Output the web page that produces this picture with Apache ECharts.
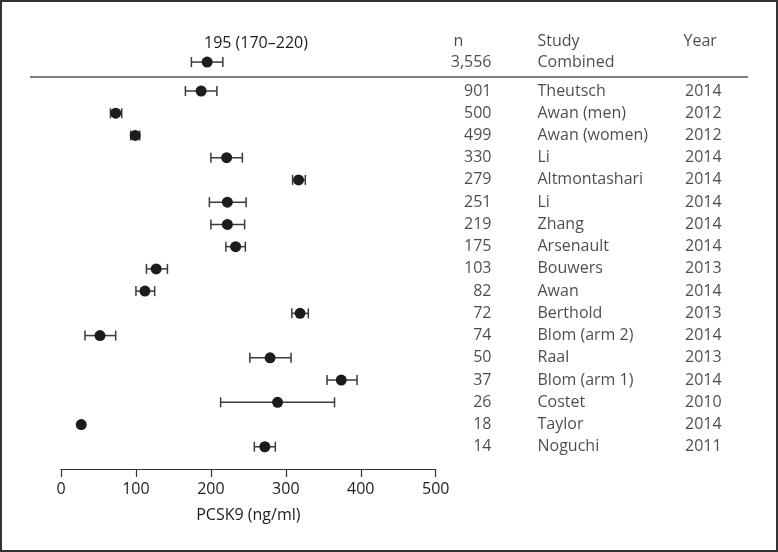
<!DOCTYPE html>
<html>
<head>
<meta charset="utf-8">
<script src="https://cdn.jsdelivr.net/npm/echarts@6/dist/echarts.min.js"></script>
<style>
html,body{margin:0;padding:0;background:#fff;}
#c{width:778px;height:552px;}
</style>
</head>
<body>
<div id="c"></div>
<script>
// ---- data ----
const studies = ['Theutsch','Awan (men)','Awan (women)','Li','Altmontashari','Li','Zhang','Arsenault','Bouwers','Awan','Berthold','Blom (arm 2)','Raal','Blom (arm 1)','Costet','Taylor','Noguchi'];
const nValues = [901,500,499,330,279,251,219,175,103,82,72,74,50,37,26,18,14];
const years = [2014,2012,2012,2014,2014,2014,2014,2014,2013,2014,2013,2014,2013,2014,2010,2014,2011];
const means = [187,73,99,221,317,222,222,233,127,112,319,52,279,374,289,27,272];
const lows  = [166,66,93,200,309,198,200,220,114,100,308,32,252,355,213,null,258];
const highs = [208,81,105,242,326,247,245,246,142,125,330,73,307,395,365,null,286];
const combined = {name:'Combined', n:3556, mean:195, low:174, high:216, label:'195 (170–220)'};
const xTicks = [0,100,200,300,400,500];
const headers = {n:'n', study:'Study', year:'Year'};

// ---- layout helpers ----
const FONT = '"Open Sans", "Noto Sans", sans-serif';
const FS = 16;
const TXT = '#1e1e1e';
const rowY = studies.map((_, i) => i);
const combinedY = -1.3;
const headerY = -2.25;
const colN = 52, colNHead = 13, colStudy = 97, colYear = 243;

const barData = [];
studies.forEach((s, i) => { if (lows[i] != null) barData.push([lows[i], highs[i], rowY[i]]); });
barData.push([combined.low, combined.high, combinedY]);
const pointData = studies.map((s, i) => [means[i], rowY[i]]);
pointData.push([combined.mean, combinedY]);

function textSeries(items, align) {
  return {
    type: 'scatter', xAxisIndex: 1, yAxisIndex: 1, symbolSize: 1, silent: true,
    itemStyle: {color: 'rgba(0,0,0,0)'},
    data: items.map(it => ({value: [it.x, it.y], label: {formatter: String(it.t)}})),
    label: {show: true, position: align === 'right' ? 'left' : 'right', distance: 0,
      fontSize: FS, fontFamily: FONT, color: TXT}
  };
}
const fmt = v => v.toLocaleString('en-US');
const nItems = studies.map((s, i) => ({x: colN, y: rowY[i], t: fmt(nValues[i])}));
nItems.push({x: colN, y: combinedY, t: fmt(combined.n)});
const nHead = [{x: colNHead, y: headerY, t: headers.n}];
const studyItems = studies.map((s, i) => ({x: colStudy, y: rowY[i], t: s}));
studyItems.push({x: colStudy, y: combinedY, t: combined.name});
studyItems.push({x: colStudy, y: headerY, t: headers.study});
const yearItems = years.map((y, i) => ({x: colYear + 1.5, y: rowY[i], t: y}));
const yearHead = [{x: colYear, y: headerY, t: headers.year}];

const chart = echarts.init(document.getElementById('c'), null, {renderer: 'canvas'});
const gridTop = 35.4, gridH = 433.6;
const option = {
  animation: false,
  backgroundColor: '#fff',
  title: {text: combined.label, left: 199, top: 30,
    textStyle: {fontSize: FS, fontWeight: 'normal', fontFamily: FONT, color: TXT}},
  grid: [
    {left: 61, width: 374.7, top: gridTop, height: gridH},
    {left: 440, width: 320, top: gridTop, height: gridH}
  ],
  xAxis: [
    {gridIndex: 0, type: 'value', min: xTicks[0], max: xTicks[xTicks.length - 1], interval: 100,
      axisLine: {show: true, onZero: false, lineStyle: {color: '#333', width: 1.2}},
      axisTick: {show: true, length: 8, lineStyle: {color: '#333', width: 1.2}},
      axisLabel: {fontSize: FS, fontFamily: FONT, color: TXT, margin: 12},
      splitLine: {show: false},
      name: 'PCSK9 (ng/ml)', nameLocation: 'middle', nameGap: 38,
      nameTextStyle: {fontSize: FS, fontFamily: FONT, color: TXT}},
    {gridIndex: 1, type: 'value', min: 0, max: 320, show: false}
  ],
  yAxis: [
    {gridIndex: 0, type: 'value', min: -2.5, max: 17, inverse: true, show: false},
    {gridIndex: 1, type: 'value', min: -2.5, max: 17, inverse: true, show: false}
  ],
  graphic: [
    {type: 'rect', shape: {x: 1, y: 1, width: 776, height: 550}, style: {fill: 'none', stroke: '#333', lineWidth: 2}, silent: true},
    {type: 'line', shape: {x1: 30, y1: 77, x2: 748, y2: 77}, style: {stroke: '#555', lineWidth: 1.5}, silent: true}
  ],
  series: [
    {
      type: 'custom', xAxisIndex: 0, yAxisIndex: 0, silent: true,
      data: barData,
      renderItem: function (params, api) {
        const p1 = api.coord([api.value(0), api.value(2)]);
        const p2 = api.coord([api.value(1), api.value(2)]);
        const h = 5;
        const st = {stroke: '#3a3a3a', lineWidth: 1.5};
        return {type: 'group', children: [
          {type: 'line', shape: {x1: p1[0], y1: p1[1], x2: p2[0], y2: p2[1]}, style: st},
          {type: 'line', shape: {x1: p1[0], y1: p1[1] - h, x2: p1[0], y2: p1[1] + h}, style: st},
          {type: 'line', shape: {x1: p2[0], y1: p2[1] - h, x2: p2[0], y2: p2[1] + h}, style: st}
        ]};
      }
    },
    {
      type: 'scatter', xAxisIndex: 0, yAxisIndex: 0, silent: true,
      symbol: 'circle', symbolSize: 11, itemStyle: {color: '#1c1c1c', opacity: 1},
      data: pointData, z: 5
    },
    textSeries(nItems, 'right'),
    textSeries(nHead, 'left'),
    textSeries(studyItems, 'left'),
    textSeries(yearItems, 'left'),
    textSeries(yearHead, 'left')
  ]
};
chart.setOption(option);
</script>
</body>
</html>
